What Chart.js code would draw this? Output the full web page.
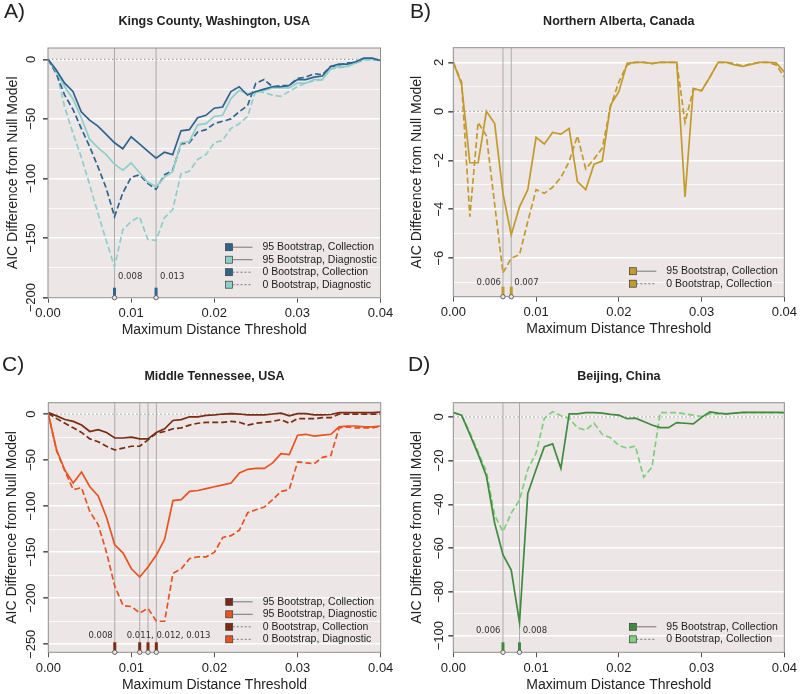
<!DOCTYPE html>
<html>
<head>
<meta charset="utf-8">
<script src="https://cdn.jsdelivr.net/npm/chart.js@4/dist/chart.umd.min.js"></script>
<style>
  body { margin: 0; background: #fff; }
  #wrap { position: relative; width: 800px; height: 694px; }
  canvas { position: absolute; }
</style>
</head>
<body>
<div id="wrap">
  <canvas id="panelA" width="400" height="347" style="left:0px;top:0px"></canvas>
  <canvas id="panelB" width="400" height="347" style="left:400px;top:0px"></canvas>
  <canvas id="panelC" width="400" height="339" style="left:0px;top:355px"></canvas>
  <canvas id="panelD" width="400" height="339" style="left:400px;top:355px"></canvas>
</div>
<script>
// distance thresholds (x values shared by every panel)
const distances = [0.000, 0.001, 0.002, 0.003, 0.004, 0.005, 0.006, 0.007, 0.008, 0.009,
  0.010, 0.011, 0.012, 0.013, 0.014, 0.015, 0.016, 0.017, 0.018, 0.019,
  0.020, 0.021, 0.022, 0.023, 0.024, 0.025, 0.026, 0.027, 0.028, 0.029,
  0.030, 0.031, 0.032, 0.033, 0.034, 0.035, 0.036, 0.037, 0.038, 0.039, 0.040];

const seriesNames = ['95 Bootstrap, Collection', '95 Bootstrap, Diagnostic',
  '0 Bootstrap, Collection', '0 Bootstrap, Diagnostic'];

// A) Kings County
const kingsCol95 = [0, -9, -20, -27, -44, -51, -56, -63, -70, -75, -65, -71, -77, -83, -78, -80, -60, -59, -49, -47,
  -41, -40, -27, -23, -30, -27, -25, -23, -23, -22, -17, -17, -15, -14, -6, -4, -4, -2, 1, 1, -1];
const kingsDiag95 = [0, -10, -23, -33, -49, -67, -74, -80, -88, -93, -87, -95, -103, -107, -99, -94, -70, -69, -55, -54,
  -48, -47, -33, -26, -29, -28, -26, -24, -24, -24, -20, -20, -17, -17, -8, -6, -6, -3, 0, 0, -1];
const kingsCol0 = [0, -12, -30, -42, -58, -73, -90, -108, -132, -112, -99, -97, -104, -109, -97, -93, -71, -70, -61, -59,
  -54, -52, -50, -44, -39, -20, -17, -23, -22, -22, -16, -15, -12, -13, -6, -5, -3, -3, 0, 0, -1];
const kingsDiag0 = [0, -10, -40, -62, -82, -105, -129, -152, -174, -143, -136, -132, -151, -152, -133, -126, -96, -94, -84, -80,
  -70, -68, -58, -54, -48, -26, -28, -30, -31, -27, -23, -20, -18, -17, -8, -7, -6, -3, 0, 0, -1];
const kingsTicks = [0, -50, -100, -150, -200];
const kingsPicks = [0.008, 0.013];

// B) Northern Alberta
const albertaCol95 = [2.0, 1.1, -2.1, -2.1, 0.0, -0.5, -3.35, -5.05, -3.9, -3.2, -1.06, -1.33, -0.86, -0.93, -0.7, -2.87, -3.2, -2.16, -2.03, 0.26,
  0.8, 1.96, 2.0, 2.0, 1.96, 2.0, 2.0, 2.0, -3.5, 0.94, 0.84, 1.4, 2.0, 2.0, 1.9, 1.84, 1.92, 2.0, 2.0, 1.98, 1.6];
const albertaCol0 = [2.0, 1.2, -4.3, -0.45, -1.0, -3.8, -6.6, -6.0, -5.85, -4.5, -3.2, -3.35, -3.1, -2.7, -2.05, -1.0, -2.35, -1.95, -1.5, 0.2,
  1.2, 1.9, 2.0, 2.0, 1.95, 2.0, 2.0, 2.0, -0.45, 0.9, 0.84, 1.4, 2.0, 2.0, 1.95, 1.85, 1.95, 2.0, 2.0, 1.9, 1.4];
const albertaTicks = [2, 0, -2, -4, -6];
const albertaPicks = [0.006, 0.007];

// C) Middle Tennessee
const tennCol95 = [1.5, -2, -6, -8, -12, -19, -17, -20, -26, -26, -25, -27, -27, -20, -16, -7, -6, -3, -3, -1.5,
  -1, 0, 0.5, 0, -1, -1, -1, 0, 1, -2, 0.5, 0.5, -1, -1, -0.5, 1.5, 1.5, 1.5, 1.5, 1.5, 2];
const tennDiag95 = [0, -39, -61, -75, -63, -79, -89, -112, -142, -151, -168, -177, -166, -153, -136, -94, -93, -84, -83, -81,
  -79, -77, -75, -64, -60, -59, -59, -53, -43, -44, -23, -22, -24, -23, -22, -14, -13, -13, -14, -14, -13];
const tennCol0 = [1, -5, -10, -15, -20, -27, -30, -35, -39, -37, -35, -35, -28, -21, -19, -16, -15, -12, -10, -9,
  -9, -9, -8, -9, -12, -10, -9, -8, -6, -10, -5, -5, -5, -4, -4, 0, 0, 0, 0, 0, 0];
const tennDiag0 = [0, -40, -62, -82, -80, -106, -120, -150, -187, -208, -209, -216, -211, -225, -225, -173, -168, -157, -155, -155,
  -150, -134, -132, -126, -107, -104, -101, -93, -84, -82, -52, -53, -54, -47, -45, -15, -14, -15, -15, -15, -13];
const tennTicks = [0, -50, -100, -150, -200, -250];
const tennPicks = [0.008, 0.011, 0.012, 0.013];

// D) Beijing
const beijingCol95 = [2, 0.8, -8, -17, -27, -48.6, -63, -70, -94, -35, -24, -13.6, -12.3, -23.5, 1.4, 1.4, 2, 2, 1.7, 1.2,
  0.8, -0.8, -0.6, -2.1, -3.7, -4.9, -4.9, -2.6, -2.9, -3.2, -0.2, 2.3, 1.7, 1.4, 1.7, 2.1, 2.1, 2.1, 2.1, 2.1, 2];
const beijingCol0 = [2, 0.8, -7, -16, -25, -45, -52.4, -44, -38, -24, -16.6, -0.6, 2.4, 0.5, -0.6, -5, -6, -2.9, -8, -9.5,
  -13, -14.3, -13.3, -27.6, -23, 2, 2, 2, 1.4, 0.8, 0.2, 1.4, 1.4, 1.4, 1.7, 2, 2, 2, 2, 2, 2];
const beijingTicks = [0, -20, -40, -60, -80, -100];
const beijingPicks = [0.006, 0.008];

const plotBg = '#ece6e6';
const yTitle = 'AIC Difference from Null Model';
const xTitle = 'Maximum Distance Threshold';
Chart.defaults.font.family = '"Liberation Sans", Arial, sans-serif';

const panels = [
  {
    id: 'panelA', letter: 'A)', title: 'Kings County, Washington, USA',
    area: { left: 48, right: 380.5, top: 48, bottom: 297.7 },
    yMin: -200, yMax: 9.5, step: 25, major: 50, ticks: kingsTicks,
    tickOff: 16.5, titleOff: 35.3, letterX: 4, letterY: 12.5,
    series: [
      { name: seriesNames[0], data: kingsCol95, color: '#2f6490', dash: false },
      { name: seriesNames[1], data: kingsDiag95, color: '#8ccfcb', dash: false },
      { name: seriesNames[2], data: kingsCol0, color: '#2f6490', dash: true },
      { name: seriesNames[3], data: kingsDiag0, color: '#8ccfcb', dash: true }
    ],
    picks: kingsPicks, markColor: '#2f6490', noteDy: 21,
    notes: [
      { text: '0.008', at: 0.008, align: 'left', dx: 3.5 },
      { text: '0.013', at: 0.013, align: 'left', dx: 4 }
    ]
  },
  {
    id: 'panelB', letter: 'B)', title: 'Northern Alberta, Canada',
    area: { left: 53.3, right: 386.7, top: 47.7, bottom: 296.7 },
    yMin: -7.57, yMax: 2.6, step: 1, major: 2, ticks: albertaTicks,
    tickOff: 14, titleOff: 36.3, letterX: 10, letterY: 12.5,
    series: [
      { name: seriesNames[0], data: albertaCol95, color: '#c39a2b', dash: false },
      { name: seriesNames[2], data: albertaCol0, color: '#c39a2b', dash: true }
    ],
    picks: albertaPicks, markColor: '#c39a2b', noteDy: 14,
    notes: [
      { text: '0.006', at: 0.006, align: 'right', dx: -2 },
      { text: '0.007', at: 0.007, align: 'left', dx: 3 }
    ]
  },
  {
    id: 'panelC', letter: 'C)', title: 'Middle Tennessee, USA',
    area: { left: 48.3, right: 380.7, top: 47.7, bottom: 297.3 },
    yMin: -258.7, yMax: 12.3, step: 25, major: 50, ticks: tennTicks,
    tickOff: 16.6, titleOff: 36, letterX: 2, letterY: 10.5,
    series: [
      { name: seriesNames[0], data: tennCol95, color: '#7a2c10', dash: false },
      { name: seriesNames[1], data: tennDiag95, color: '#e8531f', dash: false },
      { name: seriesNames[2], data: tennCol0, color: '#7a2c10', dash: true },
      { name: seriesNames[3], data: tennDiag0, color: '#e8531f', dash: true }
    ],
    picks: tennPicks, markColor: '#7a2c10', noteDy: 16.6,
    notes: [
      { text: '0.008', at: 0.008, align: 'right', dx: -2 },
      { text: '0.011, 0.012, 0.013', at: 0.011, align: 'left', dx: -13 }
    ]
  },
  {
    id: 'panelD', letter: 'D)', title: 'Beijing, China',
    area: { left: 53.3, right: 386.7, top: 47.7, bottom: 297.3 },
    yMin: -107.6, yMax: 6.5, step: 10, major: 20, ticks: beijingTicks,
    tickOff: 14, titleOff: 36.3, letterX: 8, letterY: 10.5,
    series: [
      { name: seriesNames[0], data: beijingCol95, color: '#3f8b3d', dash: false },
      { name: seriesNames[2], data: beijingCol0, color: '#7ed07b', dash: true }
    ],
    picks: beijingPicks, markColor: '#3f8b3d', noteDy: 22,
    notes: [
      { text: '0.006', at: 0.006, align: 'right', dx: -2.5 },
      { text: '0.008', at: 0.008, align: 'left', dx: 3.3 }
    ]
  }
];

function fmtTick(v) {
  return v < 0 ? '\u2212' + Math.abs(v) : String(v);
}

function onStep(v, step) {
  const r = v / step;
  return Math.abs(r - Math.round(r)) < 1e-6;
}

function decorPlugin(p) {
  return {
    id: 'decor',
    beforeDraw(chart) {
      const { ctx, chartArea: a } = chart;
      ctx.save();
      ctx.fillStyle = plotBg;
      ctx.fillRect(a.left, a.top, a.right - a.left, a.bottom - a.top);
      ctx.restore();
    },
    beforeDatasetsDraw(chart) {
      const { ctx, chartArea: a, scales } = chart;
      ctx.save();
      // dotted zero line
      const y0 = scales.y.getPixelForValue(0);
      ctx.strokeStyle = '#8a8a8a';
      ctx.lineWidth = 1;
      ctx.setLineDash([1.5, 2.5]);
      ctx.beginPath();
      ctx.moveTo(a.left, y0);
      ctx.lineTo(a.right, y0);
      ctx.stroke();
      ctx.setLineDash([]);
      // chosen thresholds
      ctx.strokeStyle = '#ababab';
      p.picks.forEach(t => {
        const px = scales.x.getPixelForValue(t);
        ctx.beginPath();
        ctx.moveTo(px, a.top);
        ctx.lineTo(px, a.bottom);
        ctx.stroke();
      });
      ctx.restore();
    },
    afterDraw(chart) {
      const { ctx, chartArea: a, scales } = chart;
      const cx = (a.left + a.right) / 2;
      ctx.save();
      ctx.strokeStyle = '#8f8f8f';
      ctx.lineWidth = 1;
      ctx.strokeRect(a.left, a.top, a.right - a.left, a.bottom - a.top);

      // threshold markers at the bottom
      p.picks.forEach(t => {
        const px = scales.x.getPixelForValue(t);
        ctx.strokeStyle = p.markColor;
        ctx.lineWidth = 3;
        ctx.beginPath();
        ctx.moveTo(px, a.bottom - 10);
        ctx.lineTo(px, a.bottom - 2);
        ctx.stroke();
        ctx.lineWidth = 0.9;
        ctx.strokeStyle = '#555';
        ctx.fillStyle = plotBg;
        ctx.beginPath();
        ctx.arc(px, a.bottom, 2.2, 0, Math.PI * 2);
        ctx.fill();
        ctx.stroke();
      });
      ctx.fillStyle = '#333';
      ctx.font = '8.5px "DejaVu Sans"';
      ctx.textBaseline = 'middle';
      p.notes.forEach(n => {
        ctx.textAlign = n.align;
        ctx.fillText(n.text, scales.x.getPixelForValue(n.at) + n.dx, a.bottom - p.noteDy);
      });

      // y tick labels (rotated, as in base R)
      ctx.fillStyle = '#222';
      ctx.font = '13px "Liberation Sans", Arial, sans-serif';
      ctx.textAlign = 'center';
      p.ticks.forEach(v => {
        ctx.save();
        ctx.translate(a.left - p.tickOff, scales.y.getPixelForValue(v));
        ctx.rotate(-Math.PI / 2);
        ctx.fillText(fmtTick(v), 0, 0);
        ctx.restore();
      });

      // axis titles
      ctx.font = '14px "Liberation Sans", Arial, sans-serif';
      ctx.save();
      ctx.translate(a.left - p.titleOff, (a.top + a.bottom) / 2);
      ctx.rotate(-Math.PI / 2);
      ctx.fillText(yTitle, 0, 0);
      ctx.restore();
      ctx.fillText(xTitle, cx, a.bottom + 32.5);

      // main title and panel letter
      ctx.font = 'bold 12.5px "Liberation Sans", Arial, sans-serif';
      ctx.fillText(p.title, cx, a.top - 26);
      ctx.font = '21px "Liberation Sans", Arial, sans-serif';
      ctx.textAlign = 'left';
      ctx.fillText(p.letter, p.letterX, p.letterY);

      // legend
      const n = p.series.length;
      const sx = a.right - 155;
      ctx.font = '10.5px "Liberation Sans", Arial, sans-serif';
      p.series.forEach((s, i) => {
        const ry = a.bottom - 13 - (n - 1 - i) * 12.5;
        ctx.fillStyle = s.color;
        ctx.fillRect(sx, ry - 3.5, 7, 7);
        ctx.strokeStyle = '#3a3a3a';
        ctx.lineWidth = 0.7;
        ctx.strokeRect(sx, ry - 3.5, 7, 7);
        ctx.strokeStyle = '#777';
        ctx.lineWidth = 1;
        ctx.setLineDash(s.dash ? [2, 2] : []);
        ctx.beginPath();
        ctx.moveTo(sx + 7, ry);
        ctx.lineTo(sx + 27, ry);
        ctx.stroke();
        ctx.setLineDash([]);
        ctx.fillStyle = '#222';
        ctx.fillText(s.name, a.right - 118, ry);
      });
      ctx.restore();
    }
  };
}

panels.forEach(p => {
  const el = document.getElementById(p.id);
  const xAxisH = 40;
  new Chart(el, {
    type: 'line',
    data: {
      labels: distances,
      datasets: p.series.map(s => ({
        label: s.name,
        data: s.data,
        borderColor: s.color,
        borderWidth: 1.7,
        borderDash: s.dash ? [6, 3] : [],
        pointRadius: 0,
        tension: 0,
        fill: false
      }))
    },
    options: {
      responsive: false,
      animation: false,
      devicePixelRatio: 1,
      layout: {
        padding: {
          left: 0,
          top: p.area.top,
          right: el.width - p.area.right,
          bottom: el.height - p.area.bottom - xAxisH
        }
      },
      plugins: { legend: { display: false }, tooltip: { enabled: false }, title: { display: false } },
      scales: {
        x: {
          type: 'linear', min: 0, max: 0.04,
          border: { display: false },
          grid: { drawOnChartArea: false, drawTicks: true, tickLength: 5, tickColor: '#555' },
          ticks: {
            stepSize: 0.01, includeBounds: false, maxRotation: 0, padding: 3,
            color: '#222', font: { size: 13 },
            callback: v => v.toFixed(2)
          },
          afterFit: s => { s.height = xAxisH; }
        },
        y: {
          type: 'linear', min: p.yMin, max: p.yMax,
          border: { display: false },
          grid: {
            color: '#ffffff',
            lineWidth: c => onStep(c.tick.value, p.major) ? 1.6 : 0.8,
            tickColor: c => onStep(c.tick.value, p.major) ? '#555' : 'rgba(0,0,0,0)',
            drawTicks: true, tickLength: 5
          },
          ticks: { display: false, stepSize: p.step, includeBounds: false },
          afterFit: s => { s.width = p.area.left; }
        }
      }
    },
    plugins: [decorPlugin(p)]
  });
});
</script>
</body>
</html>
